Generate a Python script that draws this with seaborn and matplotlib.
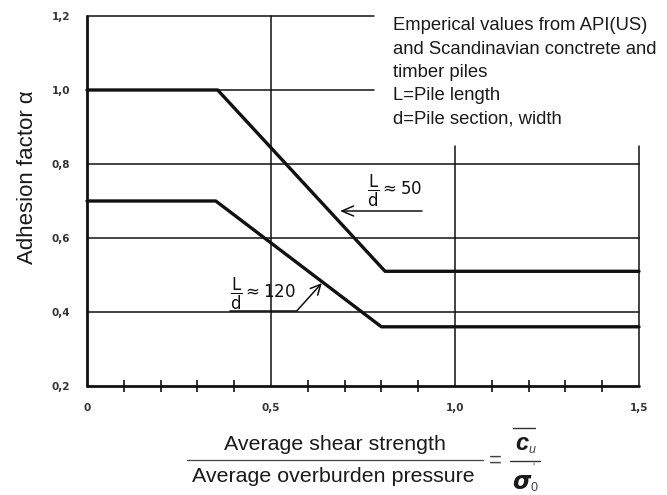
import matplotlib
matplotlib.use("Agg")
import matplotlib.pyplot as plt
import seaborn as sns
import pandas as pd
from matplotlib.lines import Line2D

# ---- data ----
x_ld50 = [0.0, 0.355, 0.81, 1.5]
y_ld50 = [1.0, 1.0, 0.51, 0.51]
x_ld120 = [0.0, 0.35, 0.80, 1.5]
y_ld120 = [0.70, 0.70, 0.36, 0.36]

xtick_vals = [0.0, 0.5, 1.0, 1.5]
xtick_labels = ["0", "0,5", "1,0", "1,5"]
ytick_vals = [0.2, 0.4, 0.6, 0.8, 1.0, 1.2]
ytick_labels = ["0,2", "0,4", "0,6", "0,8", "1,0", "1,2"]
minor_x = [0.1, 0.2, 0.3, 0.4, 0.6, 0.7, 0.8, 0.9, 1.1, 1.2, 1.3, 1.4]

# grid structure (value, start, end)
hgrid = [(1.2, 0.0, 0.78), (1.0, 0.0, 0.78), (0.8, 0.0, 1.5), (0.6, 0.0, 1.5), (0.4, 0.0, 1.5)]
vgrid = [(0.5, 0.2, 1.2), (1.0, 0.2, 0.85), (1.5, 0.2, 0.85)]

note_lines = ["Emperical values from API(US)",
              "and Scandinavian conctrete and",
              "timber piles",
              "L=Pile length",
              "d=Pile section, width"]

sns.set_theme(style="white")
plt.rcParams["font.family"] = ["Liberation Sans", "DejaVu Sans"]

W, H = 667, 495
fig = plt.figure(figsize=(W / 100, H / 100), dpi=100)
ax = fig.add_axes([87 / W, 1 - 386 / H, (639 - 87) / W, (386 - 16) / H])
ax.set_xlim(0, 1.5)
ax.set_ylim(0.2, 1.2)
for s in ax.spines.values():
    s.set_visible(False)

ink = "#111111"
txt = "#1a1a1a"
# grid
for yv, x0, x1 in hgrid:
    ax.plot([x0, x1], [yv, yv], color=ink, lw=1.1, clip_on=False, zorder=1)
for xv, y0, y1 in vgrid:
    ax.plot([xv, xv], [y0, y1], color=ink, lw=1.1, clip_on=False, zorder=1)
# axes frame lines
ax.plot([0, 0], [0.2, 1.2], color=ink, lw=2.0, clip_on=False, zorder=2)
ax.plot([0, 1.5], [0.2, 0.2], color=ink, lw=2.0, clip_on=False, zorder=2)

# curves
df50 = pd.DataFrame({"x": x_ld50, "y": y_ld50})
df120 = pd.DataFrame({"x": x_ld120, "y": y_ld120})
sns.lineplot(data=df50, x="x", y="y", ax=ax, color=ink, lw=2.4, sort=False, clip_on=False, zorder=3)
sns.lineplot(data=df120, x="x", y="y", ax=ax, color=ink, lw=2.4, sort=False, clip_on=False, zorder=3)

# ticks
ax.set_xticks(xtick_vals)
ax.set_xticklabels(xtick_labels)
ax.set_yticks(ytick_vals)
ax.set_yticklabels(ytick_labels)
ax.set_xticks(minor_x, minor=True)
ax.tick_params(axis="x", which="major", bottom=True, length=0, pad=12, labelsize=7.5, labelcolor="#333333")
ax.tick_params(axis="x", which="minor", bottom=True, direction="inout", length=8, width=1.2, color=ink)
ax.tick_params(axis="y", which="major", left=True, length=0, pad=12, labelsize=7.5, labelcolor="#333333")
for lab in ax.get_xticklabels() + ax.get_yticklabels():
    lab.set_fontweight("bold")
    lab.set_family(["DejaVu Sans"])
ax.set_xlabel("")
ax.set_ylabel("")

# annotations
ax.annotate("", xy=(0.68, 0.673), xytext=(0.918, 0.673),
            arrowprops=dict(arrowstyle="->,head_length=0.7,head_width=0.3", lw=1.1, color=ink))
ax.text(0.835, 0.727, r"$\dfrac{\mathsf{L}}{\mathsf{d}}\approx\mathsf{50}$", fontsize=12,
        ha="center", va="center", color=ink)
ax.plot([0.389, 0.571], [0.404, 0.404], color=ink, lw=1.1)
ax.annotate("", xy=(0.638, 0.478), xytext=(0.571, 0.404),
            arrowprops=dict(arrowstyle="->,head_length=0.6,head_width=0.3", lw=1.1, color=ink,
                            shrinkA=0, shrinkB=0))
ax.text(0.478, 0.448, r"$\dfrac{\mathsf{L}}{\mathsf{d}}\approx\mathsf{120}$", fontsize=12,
        ha="center", va="center", color=ink)

# note text
for i, t in enumerate(note_lines):
    fig.text(393 / W, 1 - (26 + i * 23.3) / H, t, fontsize=13.3, ha="left", va="center", color=txt)

# y label
fig.text(28 / W, 1 - 177 / H, "Adhesion factor α", rotation=90, fontsize=16,
         ha="center", va="center", color=txt)

# x label as fraction
fig.text(335 / W, 1 - 444 / H, "Average shear strength", fontsize=15.4, ha="center", va="center", color=txt)
fig.text(333 / W, 1 - 477 / H, "Average overburden pressure", fontsize=15.4, ha="center", va="center", color=txt)
fig.add_artist(Line2D([187 / W, 483 / W], [1 - 460 / H, 1 - 460 / H], color="#444444", lw=0.9))
fig.text(495 / W, 1 - 461 / H, "=", fontsize=16, ha="center", va="center", color="#444444")
# c_u over sigma'_0
fig.add_artist(Line2D([513 / W, 535 / W], [1 - 428 / H, 1 - 428 / H], color="#333333", lw=1.0))
fig.text(522 / W, 1 - 444 / H, "c", fontsize=17, fontweight="bold", style="italic",
         ha="center", va="center", color=txt)
fig.text(532 / W, 1 - 450 / H, "u", fontsize=9, style="italic", ha="center", va="center", color="#444444")
fig.add_artist(Line2D([510 / W, 540 / W], [1 - 461 / H, 1 - 461 / H], color="#333333", lw=1.0))
fig.text(521 / W, 1 - 482 / H, "σ", fontsize=17, fontweight="bold", style="italic",
         ha="center", va="center", color=txt, family=["DejaVu Sans"])
fig.text(533 / W, 1 - 468 / H, "'", fontsize=8, ha="center", va="center", color="#444444")
fig.text(534 / W, 1 - 488 / H, "0", fontsize=9, ha="center", va="center", color="#444444")

fig.savefig("out.png", dpi=100)
